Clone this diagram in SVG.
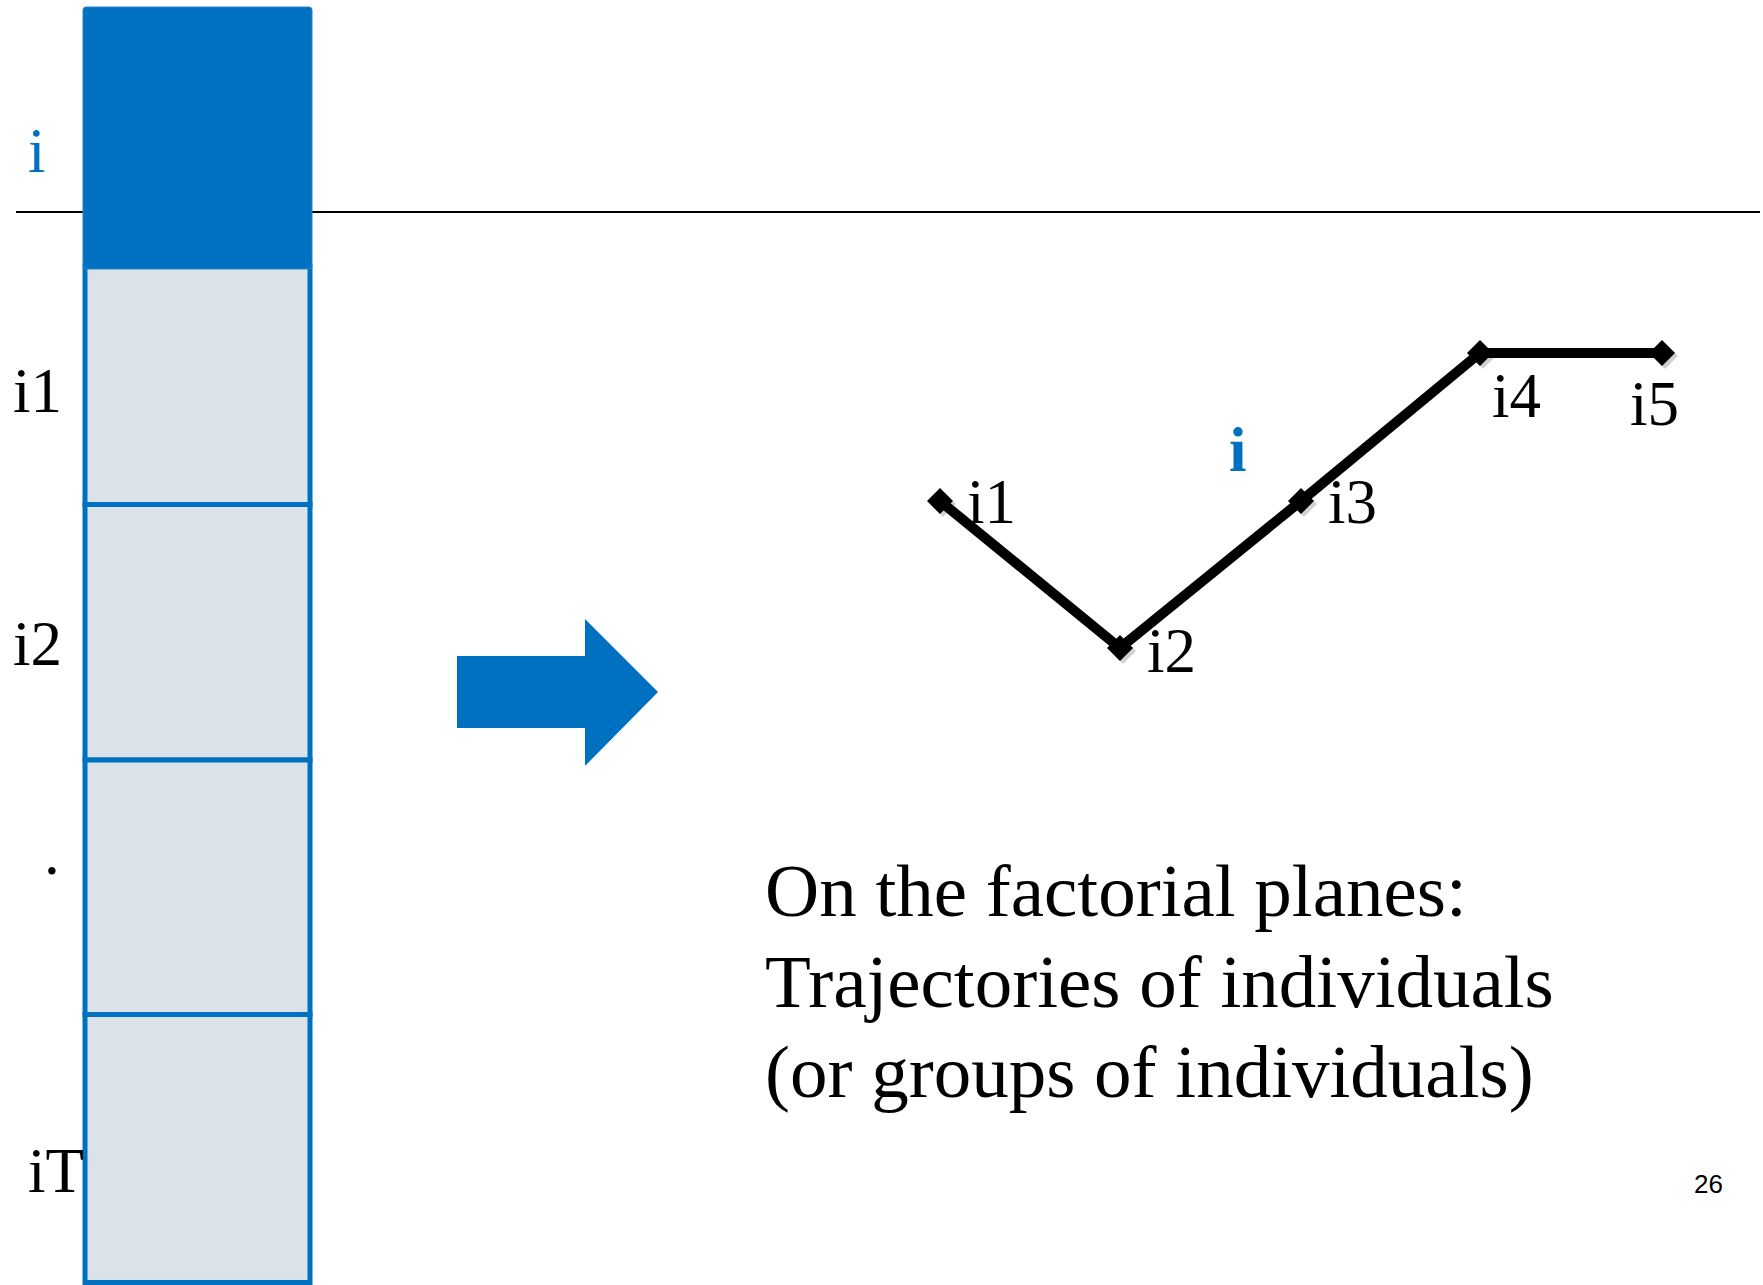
<svg xmlns="http://www.w3.org/2000/svg" width="1763" height="1285" viewBox="0 0 1763 1285">
<style>
.lbl{font-family:"Liberation Serif","Times New Roman",serif;font-size:63px;fill:#000}
.blue{fill:#0070C0}
.cell{fill:#DAE3EA;stroke:#0070C0;stroke-width:5}
.body{font-family:"Liberation Serif","Times New Roman",serif;font-size:75px;fill:#000}
.pt{fill:#000}
.sh{fill:#000;opacity:0.18}
</style>
<rect width="1763" height="1285" fill="#fff"/>
<line x1="16" y1="212" x2="1760" y2="212" stroke="#000" stroke-width="2"/>
<g id="cell1"><rect class="cell" x="85" y="266" width="225" height="238.5"/></g>
<g id="cell2"><rect class="cell" x="85" y="504.5" width="225" height="255.5"/></g>
<g id="cell3"><rect class="cell" x="85" y="760" width="225" height="254.5"/></g>
<g id="cell4"><rect class="cell" x="85" y="1014.5" width="225" height="268"/></g>
<g id="header"><rect x="83" y="7" width="229" height="262" rx="3" fill="#0070C0" stroke="#2a84cc" stroke-width="1"/></g>
<g id="rowlabels">
<text class="lbl blue" x="28" y="172">i</text>
<text class="lbl" x="13" y="412">i1</text>
<text class="lbl" x="13" y="665">i2</text>
<text class="lbl" x="44" y="874">.</text>
<text class="lbl" x="28" y="1192">iT</text>
</g>
<g id="arrow"><polygon points="457,656 585,656 585,619 658,692 585,766 585,728 457,728" fill="#0070C0"/></g>
<g id="connectors">
<polyline points="940,501 1120,648 1301,501 1480,353 1662,353" fill="none" stroke="#000" stroke-width="10" stroke-linejoin="miter"/>
</g>
<g id="p1"><polygon class="sh" points="943,491 956,504 943,517 930,504"/><polygon class="pt" points="940,488 953,501 940,514 927,501"/><text class="lbl" x="967" y="523">i1</text></g>
<g id="p2"><polygon class="sh" points="1123,638 1136,651 1123,664 1110,651"/><polygon class="pt" points="1120,635 1133,648 1120,661 1107,648"/><text class="lbl" x="1147" y="672">i2</text></g>
<g id="p3"><polygon class="sh" points="1304,491 1317,504 1304,517 1291,504"/><polygon class="pt" points="1301,488 1314,501 1301,514 1288,501"/><text class="lbl" x="1328" y="523">i3</text></g>
<g id="p4"><polygon class="sh" points="1483,343 1496,356 1483,369 1470,356"/><polygon class="pt" points="1480,340 1493,353 1480,366 1467,353"/><text class="lbl" x="1492" y="417">i4</text></g>
<g id="p5"><polygon class="sh" points="1665,343 1678,356 1665,369 1652,356"/><polygon class="pt" points="1662,340 1675,353 1662,366 1649,353"/><text class="lbl" x="1630" y="425">i5</text></g>
<text class="lbl blue" x="1229" y="471" font-weight="bold">i</text>
<g id="caption">
<text class="body" x="765" y="916">On the factorial planes:</text>
<text class="body" x="765" y="1007">Trajectories of individuals</text>
<text class="body" x="765" y="1097">(or groups of individuals)</text>
</g>
<text x="1694" y="1193" font-family="Liberation Sans, Arial, sans-serif" font-size="26" fill="#000">26</text>
</svg>
